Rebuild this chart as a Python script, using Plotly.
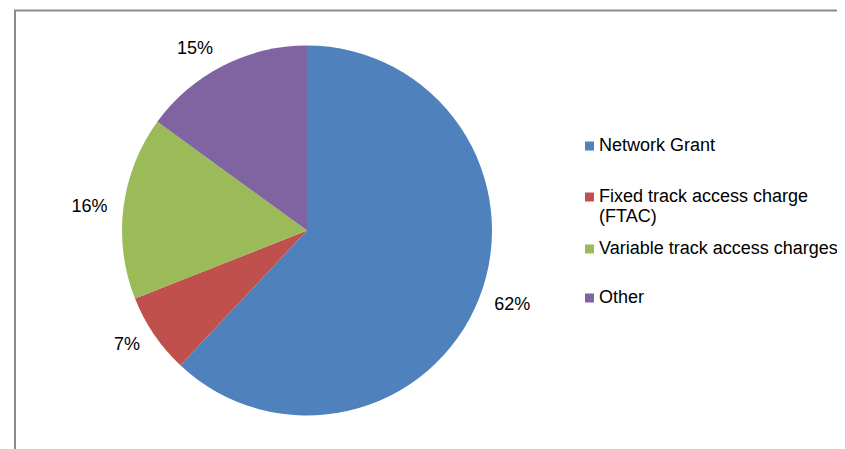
import plotly.graph_objects as go

categories = ["Network Grant", "Fixed track access charge\n(FTAC)", "Variable track access charges", "Other"]
values = [62, 7, 16, 15]
colors = ["#4F81BD", "#C0504D", "#9BBB59", "#8064A2"]

# the page body has an 8px default margin; figure is sized/offset to compensate
OFF = 8
W, H = 845 - OFF, 449 - OFF
FONT = "Liberation Sans, Arial, sans-serif"

def px(x):
    return (x - OFF) / W

def py(y):
    return 1 - (y - OFF) / H

cx, cy, r = 307, 230.5, 185
r_lab = 196  # radius used for placing the outside percentage labels

labels = [c.replace("\n", " ") for c in categories]

fig = go.Figure()
fig.add_trace(go.Pie(
    labels=labels,
    values=values,
    sort=False,
    direction="clockwise",
    rotation=0,
    marker=dict(colors=colors, line=dict(width=0)),
    textinfo="none",
    showlegend=False,
    domain=dict(x=[px(cx - r), px(cx + r)], y=[py(cy + r), py(cy - r)]),
    hoverinfo="label+percent",
))
# transparent companion pie carrying the outside labels slightly further out
fig.add_trace(go.Pie(
    labels=labels,
    values=values,
    sort=False,
    direction="clockwise",
    rotation=0,
    marker=dict(colors=["rgba(0,0,0,0)"] * len(values), line=dict(width=0)),
    textinfo="percent",
    textposition="outside",
    outsidetextfont=dict(family=FONT, size=18, color="#000000"),
    showlegend=False,
    hoverinfo="skip",
    domain=dict(x=[px(cx - r_lab), px(cx + r_lab)], y=[py(cy + r_lab), py(cy - r_lab)]),
))

shapes = []
annotations = []
# border lines
shapes.append(dict(type="line", xref="paper", yref="paper", x0=px(14), x1=px(845), y0=py(10.5), y1=py(10.5),
                   line=dict(color="#8C8C8C", width=2)))
shapes.append(dict(type="line", xref="paper", yref="paper", x0=px(15), x1=px(15), y0=py(10), y1=py(449),
                   line=dict(color="#8C8C8C", width=2)))

# custom legend
item_y = [146, 197, 249, 298]
for cat, col, yc in zip(categories, colors, item_y):
    shapes.append(dict(type="rect", xref="paper", yref="paper",
                       x0=px(585), x1=px(594), y0=py(yc - 4.5), y1=py(yc + 4.5),
                       fillcolor=col, line=dict(width=0)))
    for i, line in enumerate(cat.split("\n")):
        annotations.append(dict(text=line, xref="paper", yref="paper", x=px(597), y=py(yc + i * 20 - 1),
                                xanchor="left", yanchor="middle", showarrow=False,
                                font=dict(family=FONT, size=18, color="#000000")))

fig.update_layout(
    width=W, height=H,
    margin=dict(l=0, r=0, t=0, b=0),
    paper_bgcolor="white",
    plot_bgcolor="white",
    shapes=shapes,
    annotations=annotations,
)

fig.write_html("out.html")
